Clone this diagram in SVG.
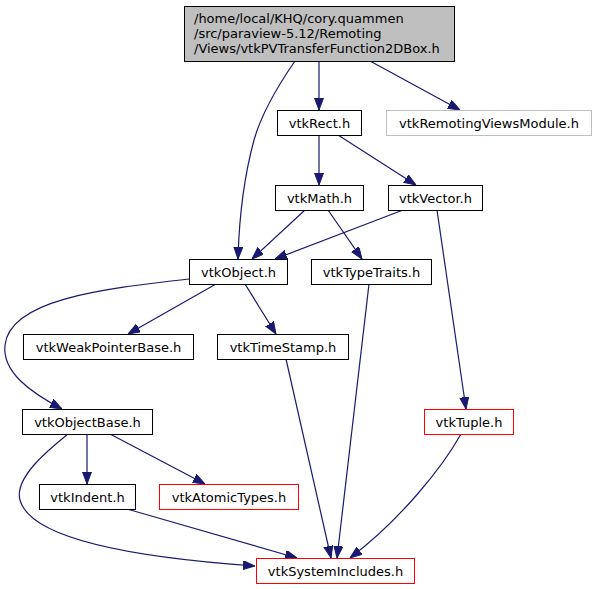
<svg xmlns="http://www.w3.org/2000/svg" width="597" height="589" viewBox="0 0 597 589">
<style>
.n rect{fill:#ffffff;stroke:#000000;stroke-width:1}
.n.g rect{stroke:#bfbfbf}
.n.r rect{stroke:#ff0000}
.n.root rect{fill:#bfbfbf;stroke:#000000}
.n text{font-family:"DejaVu Sans","Liberation Sans",sans-serif;font-size:13px;fill:#000000;text-anchor:middle}
.n.root text{text-anchor:start}
#edges path{fill:none;stroke:#191970;stroke-width:1.2;marker-end:url(#a)}
</style>
<defs>
<marker id="a" markerWidth="12" markerHeight="10" refX="12" refY="4.5" orient="auto" markerUnits="userSpaceOnUse">
<path d="M0,0 L12,4.5 L0,9 z" fill="#191970" stroke="#191970" stroke-width="1"/>
</marker>
</defs>
<rect width="597" height="589" fill="#ffffff"/>
<g id="edges">
<path d="M319,61 L319,110"/>
<path d="M370,61 L460,110"/>
<path d="M295,61 C277,87 262,112 254,140 C244,177 239,221 238,259"/>
<path d="M319,135 L319,185"/>
<path d="M338,135 L416,185"/>
<path d="M305,210 L252,259"/>
<path d="M328,210 L362,259"/>
<path d="M403,210 L275,259"/>
<path d="M437,210 L466,409"/>
<path d="M189,279 C100,289 10,300 5,345 C2,372 30,392 62,409"/>
<path d="M216,284 L128,334"/>
<path d="M245,284 L276,334"/>
<path d="M369,284 L337,558"/>
<path d="M286,359 L331,558"/>
<path d="M87,434 L87,484"/>
<path d="M110,434 L205,484"/>
<path d="M68,434 C48,450 14,478 20,500 C32,545 170,560 255,566"/>
<path d="M127,509 L297,558"/>
<path d="M461,434 C442,468 400,520 350,558"/>
</g>
<g id="root" class="n root"><rect x="184.5" y="6.5" width="270" height="55"/>
<text x="194" y="23">/home/local/KHQ/cory.quammen</text>
<text x="194" y="38">/src/paraview-5.12/Remoting</text>
<text x="194" y="53">/Views/vtkPVTransferFunction2DBox.h</text></g>
<g id="vtkRect" class="n"><rect x="277.5" y="110.5" width="84" height="25"/><text x="319.5" y="127.5">vtkRect.h</text></g>
<g id="vtkRemotingViewsModule" class="n g"><rect x="386.5" y="110.5" width="205" height="25"/><text x="489" y="127.5">vtkRemotingViewsModule.h</text></g>
<g id="vtkMath" class="n"><rect x="275.5" y="185.5" width="88" height="25"/><text x="319.5" y="202.5">vtkMath.h</text></g>
<g id="vtkVector" class="n"><rect x="388.5" y="185.5" width="94" height="25"/><text x="435.5" y="202.5">vtkVector.h</text></g>
<g id="vtkObject" class="n"><rect x="189.5" y="259.5" width="98" height="25"/><text x="238.5" y="276.5">vtkObject.h</text></g>
<g id="vtkTypeTraits" class="n"><rect x="311.5" y="259.5" width="120" height="25"/><text x="371.5" y="276.5">vtkTypeTraits.h</text></g>
<g id="vtkWeakPointerBase" class="n"><rect x="23.5" y="334.5" width="170" height="25"/><text x="108.5" y="351.5">vtkWeakPointerBase.h</text></g>
<g id="vtkTimeStamp" class="n"><rect x="217.5" y="334.5" width="131" height="25"/><text x="283" y="351.5">vtkTimeStamp.h</text></g>
<g id="vtkObjectBase" class="n"><rect x="22.5" y="409.5" width="130" height="25"/><text x="87.5" y="426.5">vtkObjectBase.h</text></g>
<g id="vtkTuple" class="n r"><rect x="424.5" y="409.5" width="89" height="25"/><text x="469" y="426.5">vtkTuple.h</text></g>
<g id="vtkIndent" class="n"><rect x="39.5" y="484.5" width="96" height="25"/><text x="87.5" y="501.5">vtkIndent.h</text></g>
<g id="vtkAtomicTypes" class="n r"><rect x="159.5" y="484.5" width="139" height="25"/><text x="229" y="501.5">vtkAtomicTypes.h</text></g>
<g id="vtkSystemIncludes" class="n r"><rect x="256.5" y="558.5" width="158" height="25"/><text x="335.5" y="575.5">vtkSystemIncludes.h</text></g>
</svg>
